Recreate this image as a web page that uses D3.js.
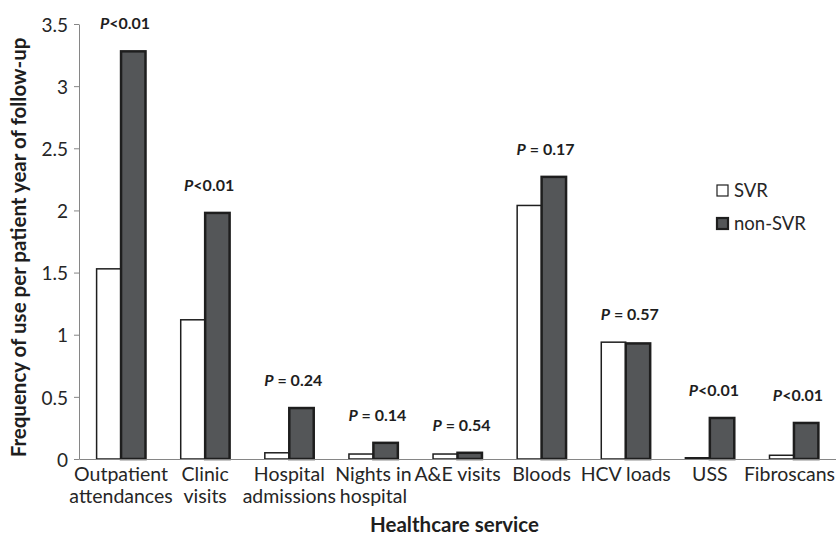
<!DOCTYPE html>
<html>
<head>
<meta charset="utf-8">
<script src="https://cdn.jsdelivr.net/npm/d3@7"></script>
<style>
  body { margin: 0; background: #fff; }
  svg { display: block; font-family: Lato, "Open Sans", sans-serif; }
  .axis path, .axis line { stroke: #868686; }
  .axis text { fill: #262626; font-family: Lato, "Open Sans", sans-serif; }
</style>
</head>
<body>
<svg id="chart"></svg>
<script>
// Healthcare use per patient year, SVR vs non-SVR
const categories = [
  ["Outpatient", "attendances"],
  ["Clinic", "visits"],
  ["Hospital", "admissions"],
  ["Nights in", "hospital"],
  ["A&E visits"],
  ["Bloods"],
  ["HCV loads"],
  ["USS"],
  ["Fibroscans"]
];
const svrValues = [1.53, 1.12, 0.05, 0.04, 0.04, 2.04, 0.94, 0.01, 0.03];
const nonSvrValues = [3.28, 1.98, 0.41, 0.13, 0.05, 2.27, 0.93, 0.33, 0.29];
const pValues = ["<0.01", "<0.01", "0.24", "0.14", "0.54", "0.17", "0.57", "<0.01", "<0.01"];
const seriesNames = ["SVR", "non-SVR"];
const yTicks = [0, 0.5, 1, 1.5, 2, 2.5, 3, 3.5];

const config = {
  width: 836,
  height: 536,
  margin: { top: 24, right: 0, bottom: 77, left: 79 }
};
const colors = { "SVR": "#ffffff", "non-SVR": "#545658" };
const strokes = { "SVR": 1.5, "non-SVR": 2.5 };

const innerW = config.width - config.margin.left - config.margin.right;
const innerH = config.height - config.margin.top - config.margin.bottom;

const svg = d3.select("#chart")
  .attr("width", config.width)
  .attr("height", config.height);

const chart = svg.append("g")
  .attr("transform", `translate(${config.margin.left},${config.margin.top})`);

const keys = categories.map(d => d.join(" "));
const data = keys.map((k, i) => ({
  key: k,
  lines: categories[i],
  p: pValues[i],
  values: [
    { series: "SVR", value: svrValues[i] },
    { series: "non-SVR", value: nonSvrValues[i] }
  ]
}));

// Scales
const x0 = d3.scaleBand().domain(keys).range([0, innerW]).padding(0);
const x1 = d3.scaleBand().domain(seriesNames).range([0, x0.bandwidth()])
  .paddingInner(0).paddingOuter(0.72);
const y = d3.scaleLinear().domain([0, 3.5]).range([innerH, 0]);

// Y axis
const yAxisG = chart.append("g")
  .attr("class", "axis y-axis")
  .call(d3.axisLeft(y).tickValues(yTicks).tickSize(5).tickSizeOuter(0).tickPadding(6)
    .tickFormat(d => String(d)));
yAxisG.selectAll("text").style("font-size", "19px").attr("dy", "0.38em");

// Bars
const groups = chart.selectAll(".group")
  .data(data)
  .join("g")
  .attr("class", "group")
  .attr("transform", d => `translate(${x0(d.key)},0)`);

groups.selectAll("rect")
  .data(d => d.values)
  .join("rect")
  .attr("x", d => x1(d.series))
  .attr("width", x1.bandwidth())
  .attr("y", d => y(d.value))
  .attr("height", d => innerH - y(d.value))
  .attr("fill", d => colors[d.series])
  .attr("stroke", "#1e1e1e")
  .attr("stroke-width", d => strokes[d.series]);

// X axis (no ticks, wrapped labels)
const xAxisG = chart.append("g")
  .attr("class", "axis x-axis")
  .attr("transform", `translate(0,${innerH})`)
  .call(d3.axisBottom(x0).tickSize(0).tickSizeOuter(0).tickPadding(0));
xAxisG.select(".domain").attr("stroke-width", 1.2);
xAxisG.selectAll(".tick text")
  .style("font-size", "19.5px")
  .attr("y", 0)
  .attr("dy", null)
  .text(null)
  .each(function (k) {
    const lines = data.find(d => d.key === k).lines;
    d3.select(this).selectAll("tspan")
      .data(lines)
      .join("tspan")
      .attr("x", 0)
      .attr("y", (d, i) => 22 + i * 22)
      .text(d => d);
  });

// keep the last label inside the picture
xAxisG.selectAll(".tick text").each(function (k) {
  const box = this.getBBox();
  const right = config.margin.left + x0(k) + x0.bandwidth() / 2 + box.x + box.width;
  if (right > config.width - 1) {
    const shift = config.width - 1 - right;
    d3.select(this).attr("transform", `translate(${shift},0)`);
  }
});

// P-value labels
const pLabels = chart.selectAll(".p-label")
  .data(data)
  .join("text")
  .attr("class", "p-label")
  .attr("x", d => x0(d.key) + x0.bandwidth() / 2 + 4)
  .attr("y", d => y(d3.max(d.values, v => v.value)) - 22)
  .attr("text-anchor", "middle")
  .style("font-size", "16px")
  .style("font-weight", "bold")
  .style("fill", "#1e1e1e");
pLabels.append("tspan").style("font-style", "italic").text("P");
pLabels.append("tspan").text(d => d.p.startsWith("<") ? d.p : " = " + d.p);

// Axis titles
svg.append("text")
  .attr("class", "axis-title")
  .attr("transform", `translate(26,${config.margin.top + innerH / 2 + 6}) rotate(-90)`)
  .attr("text-anchor", "middle")
  .style("font-size", "20.5px")
  .style("font-weight", "bold")
  .style("fill", "#1e1e1e")
  .text("Frequency of use per patient year of follow-up");

svg.append("text")
  .attr("class", "axis-title")
  .attr("x", config.margin.left + innerW / 2 - 3)
  .attr("y", 532)
  .attr("text-anchor", "middle")
  .style("font-size", "20.5px")
  .style("font-weight", "bold")
  .style("fill", "#1e1e1e")
  .text("Healthcare service");

// Legend
const legend = svg.append("g").attr("transform", "translate(717,185)");
const legendItems = legend.selectAll(".legend-item")
  .data(seriesNames)
  .join("g")
  .attr("class", "legend-item")
  .attr("transform", (d, i) => `translate(0,${i * 33})`);
legendItems.append("rect")
  .attr("width", 11)
  .attr("height", 11)
  .attr("fill", d => colors[d])
  .attr("stroke", "#1e1e1e")
  .attr("stroke-width", d => strokes[d] - 0.3);
legendItems.append("text")
  .attr("x", 17)
  .attr("y", 12)
  .style("font-size", "18.5px")
  .style("fill", "#262626")
  .text(d => d);
</script>
</body>
</html>
